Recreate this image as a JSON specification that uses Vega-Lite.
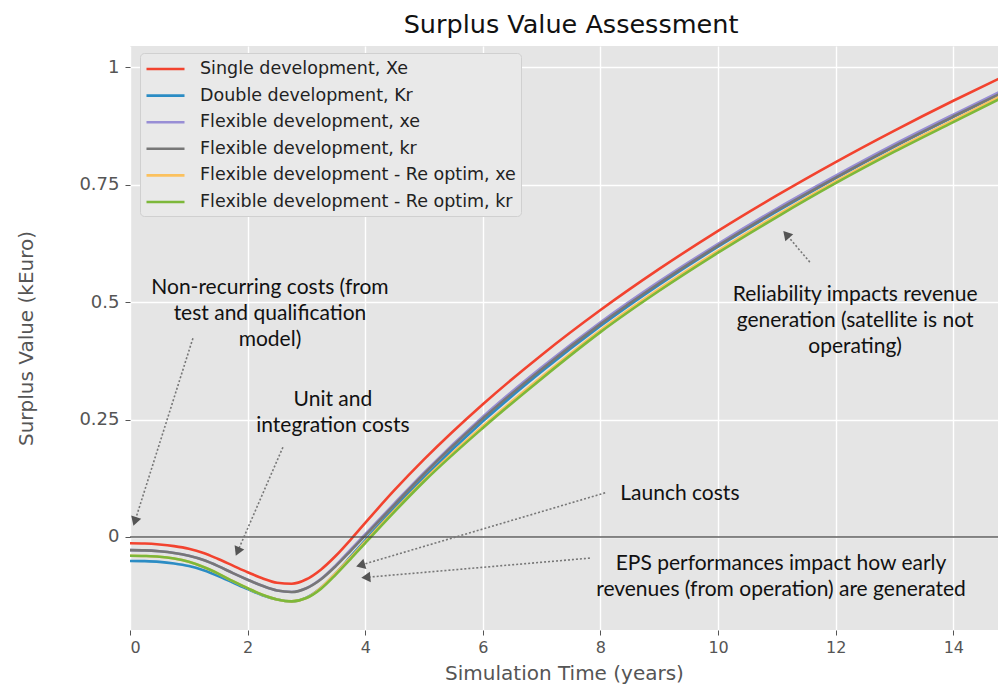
{
  "$schema": "https://vega.github.io/schema/vega-lite/v6.json",
  "width": 868,
  "height": 584,
  "autosize": {"type": "none"},
  "padding": {"left": 130, "top": 46, "right": 0, "bottom": 56},
  "background": "white",
  "title": {"text": "Surplus Value Assessment", "font": "DejaVu Sans", "fontSize": 25.5, "fontWeight": "normal", "color": "#111111", "anchor": "middle", "offset": 8, "dx": 7},
  "datasets": {
    "curves": [
      {"t": 0, "Single development, Xe": -0.0135, "Double development, Kr": -0.051, "Flexible development, xe": -0.028, "Flexible development, kr": -0.028, "Flexible development - Re optim, xe": -0.040, "Flexible development - Re optim, kr": -0.040},
      {"t": 0.25, "Single development, Xe": -0.014, "Double development, Kr": -0.0515, "Flexible development, xe": -0.0285, "Flexible development, kr": -0.0285, "Flexible development - Re optim, xe": -0.0405, "Flexible development - Re optim, kr": -0.0405},
      {"t": 0.5, "Single development, Xe": -0.016, "Double development, Kr": -0.053, "Flexible development, xe": -0.0305, "Flexible development, kr": -0.0305, "Flexible development - Re optim, xe": -0.042, "Flexible development - Re optim, kr": -0.042},
      {"t": 0.75, "Single development, Xe": -0.0195, "Double development, Kr": -0.0565, "Flexible development, xe": -0.034, "Flexible development, kr": -0.034, "Flexible development - Re optim, xe": -0.046, "Flexible development - Re optim, kr": -0.046},
      {"t": 1, "Single development, Xe": -0.025, "Double development, Kr": -0.062, "Flexible development, xe": -0.040, "Flexible development, kr": -0.040, "Flexible development - Re optim, xe": -0.053, "Flexible development - Re optim, kr": -0.053},
      {"t": 1.25, "Single development, Xe": -0.034, "Double development, Kr": -0.071, "Flexible development, xe": -0.049, "Flexible development, kr": -0.049, "Flexible development - Re optim, xe": -0.064, "Flexible development - Re optim, kr": -0.064},
      {"t": 1.5, "Single development, Xe": -0.047, "Double development, Kr": -0.083, "Flexible development, xe": -0.062, "Flexible development, kr": -0.062, "Flexible development - Re optim, xe": -0.078, "Flexible development - Re optim, kr": -0.078},
      {"t": 1.75, "Single development, Xe": -0.061, "Double development, Kr": -0.097, "Flexible development, xe": -0.077, "Flexible development, kr": -0.077, "Flexible development - Re optim, xe": -0.094, "Flexible development - Re optim, kr": -0.094},
      {"t": 2, "Single development, Xe": -0.075, "Double development, Kr": -0.111, "Flexible development, xe": -0.091, "Flexible development, kr": -0.091, "Flexible development - Re optim, xe": -0.109, "Flexible development - Re optim, kr": -0.109},
      {"t": 2.25, "Single development, Xe": -0.088, "Double development, Kr": -0.124, "Flexible development, xe": -0.104, "Flexible development, kr": -0.104, "Flexible development - Re optim, xe": -0.123, "Flexible development - Re optim, kr": -0.123},
      {"t": 2.5, "Single development, Xe": -0.0975, "Double development, Kr": -0.133, "Flexible development, xe": -0.114, "Flexible development, kr": -0.114, "Flexible development - Re optim, xe": -0.133, "Flexible development - Re optim, kr": -0.133},
      {"t": 2.75, "Single development, Xe": -0.0995, "Double development, Kr": -0.137, "Flexible development, xe": -0.117, "Flexible development, kr": -0.117, "Flexible development - Re optim, xe": -0.137, "Flexible development - Re optim, kr": -0.137},
      {"t": 3, "Single development, Xe": -0.090, "Double development, Kr": -0.129, "Flexible development, xe": -0.109, "Flexible development, kr": -0.109, "Flexible development - Re optim, xe": -0.130, "Flexible development - Re optim, kr": -0.130},
      {"t": 3.25, "Single development, Xe": -0.069, "Double development, Kr": -0.108, "Flexible development, xe": -0.089, "Flexible development, kr": -0.090, "Flexible development - Re optim, xe": -0.108, "Flexible development - Re optim, kr": -0.110},
      {"t": 3.5, "Single development, Xe": -0.040, "Double development, Kr": -0.077, "Flexible development, xe": -0.060, "Flexible development, kr": -0.062, "Flexible development - Re optim, xe": -0.077, "Flexible development - Re optim, kr": -0.080},
      {"t": 3.75, "Single development, Xe": -0.006, "Double development, Kr": -0.042, "Flexible development, xe": -0.027, "Flexible development, kr": -0.030, "Flexible development - Re optim, xe": -0.044, "Flexible development - Re optim, kr": -0.047},
      {"t": 4, "Single development, Xe": 0.030, "Double development, Kr": -0.007, "Flexible development, xe": 0.006, "Flexible development, kr": 0.003, "Flexible development - Re optim, xe": -0.010, "Flexible development - Re optim, kr": -0.013},
      {"t": 4.5, "Single development, Xe": 0.100, "Double development, Kr": 0.062, "Flexible development, xe": 0.072, "Flexible development, kr": 0.069, "Flexible development - Re optim, xe": 0.057, "Flexible development - Re optim, kr": 0.054},
      {"t": 5, "Single development, Xe": 0.165, "Double development, Kr": 0.127, "Flexible development, xe": 0.137, "Flexible development, kr": 0.134, "Flexible development - Re optim, xe": 0.121, "Flexible development - Re optim, kr": 0.118},
      {"t": 6, "Single development, Xe": 0.2825, "Double development, Kr": 0.246, "Flexible development, xe": 0.256, "Flexible development, kr": 0.252, "Flexible development - Re optim, xe": 0.236, "Flexible development - Re optim, kr": 0.232},
      {"t": 7, "Single development, Xe": 0.3875, "Double development, Kr": 0.352, "Flexible development, xe": 0.361, "Flexible development, kr": 0.357, "Flexible development - Re optim, xe": 0.341, "Flexible development - Re optim, kr": 0.337},
      {"t": 8, "Single development, Xe": 0.483, "Double development, Kr": 0.449, "Flexible development, xe": 0.457, "Flexible development, kr": 0.453, "Flexible development - Re optim, xe": 0.440, "Flexible development - Re optim, kr": 0.436},
      {"t": 9, "Single development, Xe": 0.5705, "Double development, Kr": 0.537, "Flexible development, xe": 0.544, "Flexible development, kr": 0.540, "Flexible development - Re optim, xe": 0.528, "Flexible development - Re optim, kr": 0.524},
      {"t": 10, "Single development, Xe": 0.6515, "Double development, Kr": 0.618, "Flexible development, xe": 0.624, "Flexible development, kr": 0.620, "Flexible development - Re optim, xe": 0.609, "Flexible development - Re optim, kr": 0.605},
      {"t": 11, "Single development, Xe": 0.727, "Double development, Kr": 0.693, "Flexible development, xe": 0.699, "Flexible development, kr": 0.695, "Flexible development - Re optim, xe": 0.685, "Flexible development - Re optim, kr": 0.681},
      {"t": 12, "Single development, Xe": 0.798, "Double development, Kr": 0.764, "Flexible development, xe": 0.769, "Flexible development, kr": 0.765, "Flexible development - Re optim, xe": 0.757, "Flexible development - Re optim, kr": 0.753},
      {"t": 13, "Single development, Xe": 0.865, "Double development, Kr": 0.831, "Flexible development, xe": 0.836, "Flexible development, kr": 0.832, "Flexible development - Re optim, xe": 0.824, "Flexible development - Re optim, kr": 0.820},
      {"t": 14, "Single development, Xe": 0.9285, "Double development, Kr": 0.894, "Flexible development, xe": 0.899, "Flexible development, kr": 0.895, "Flexible development - Re optim, xe": 0.887, "Flexible development - Re optim, kr": 0.883},
      {"t": 14.8, "Single development, Xe": 0.977, "Double development, Kr": 0.943, "Flexible development, xe": 0.948, "Flexible development, kr": 0.944, "Flexible development - Re optim, xe": 0.938, "Flexible development - Re optim, kr": 0.933}
    ],
    "zero": [{"v": 0}],
    "arrows": [
      {"id": 1, "x": 1.07, "y": 0.423, "x2": 0.082, "y2": 0.033},
      {"id": 2, "x": 2.60, "y": 0.191, "x2": 1.83, "y2": -0.031},
      {"id": 3, "x": 8.08, "y": 0.094, "x2": 3.92, "y2": -0.060},
      {"id": 4, "x": 7.82, "y": -0.045, "x2": 4.01, "y2": -0.086},
      {"id": 5, "x": 11.56, "y": 0.585, "x2": 11.16, "y2": 0.644}
    ],
    "notes": [
      {"x": 2.38, "y": 0.553, "label": ["Non-recurring costs (from", "test and qualification", "model)"]},
      {"x": 3.45, "y": 0.315, "label": ["Unit and", "integration costs"]},
      {"x": 9.35, "y": 0.115, "label": ["Launch costs"]},
      {"x": 11.07, "y": -0.034, "label": ["EPS performances impact how early", "revenues (from operation) are generated"]},
      {"x": 12.33, "y": 0.538, "label": ["Reliability impacts revenue", "generation (satellite is not", "operating)"]}
    ]
  },
  "layer": [
    {
      "data": {"name": "curves"},
      "transform": [
        {"fold": ["Single development, Xe", "Double development, Kr", "Flexible development, xe", "Flexible development, kr", "Flexible development - Re optim, xe", "Flexible development - Re optim, kr"], "as": ["series", "v"]}
      ],
      "mark": {"type": "line", "strokeWidth": 2.6, "interpolate": "monotone", "clip": true},
      "encoding": {
        "x": {"field": "t", "type": "quantitative", "scale": {"domain": [0, 14.76], "nice": false, "zero": false},
              "axis": {"title": "Simulation Time (years)", "values": [0, 2, 4, 6, 8, 10, 12, 14], "format": "d", "labelFontSize": 16, "labelPadding": 4, "titlePadding": 8}},
        "y": {"field": "v", "type": "quantitative", "scale": {"domain": [-0.198, 1.045], "nice": false, "zero": false},
              "axis": {"title": "Surplus Value (kEuro)", "values": [0, 0.25, 0.5, 0.75, 1], "format": ".2~f", "labelFontSize": 18, "labelPadding": 6, "titlePadding": 42}},
        "color": {"field": "series", "type": "nominal",
                  "scale": {"domain": ["Single development, Xe", "Double development, Kr", "Flexible development, xe", "Flexible development, kr", "Flexible development - Re optim, xe", "Flexible development - Re optim, kr"],
                            "range": ["#F2432F", "#2B8CC4", "#988ED5", "#777777", "#FBC15E", "#7DB83A"]},
                  "legend": {"title": null, "orient": "none", "legendX": 10, "legendY": 7}}
      }
    },
    {
      "data": {"name": "zero"},
      "mark": {"type": "rule", "color": "#444444", "strokeWidth": 1.4, "opacity": 0.85},
      "encoding": {"y": {"field": "v", "type": "quantitative",
                         "axis": {"title": "Surplus Value (kEuro)", "values": [0, 0.25, 0.5, 0.75, 1], "format": ".2~f", "labelFontSize": 18, "labelPadding": 6, "titlePadding": 42}}}
    },
    {
      "data": {"name": "arrows"},
      "mark": {"type": "rule", "color": "#777777", "strokeWidth": 1.6, "strokeDash": [2, 2]},
      "encoding": {
        "x": {"field": "x", "type": "quantitative",
              "axis": {"title": "Simulation Time (years)", "values": [0, 2, 4, 6, 8, 10, 12, 14], "format": "d", "labelFontSize": 16, "labelPadding": 4, "titlePadding": 8}},
        "y": {"field": "y", "type": "quantitative",
              "axis": {"title": "Surplus Value (kEuro)", "values": [0, 0.25, 0.5, 0.75, 1], "format": ".2~f", "labelFontSize": 18, "labelPadding": 6, "titlePadding": 42}},
        "x2": {"field": "x2"},
        "y2": {"field": "y2"}
      }
    },
    {"data": {"name": "arrows"}, "transform": [{"filter": "datum.id == 1"}],
     "mark": {"type": "point", "shape": "triangle-up", "filled": true, "color": "#555555", "size": 110, "angle": 197.6, "opacity": 1},
     "encoding": {"x": {"field": "x2", "type": "quantitative", "axis": {"title": "Simulation Time (years)", "values": [0, 2, 4, 6, 8, 10, 12, 14], "format": "d", "labelFontSize": 16, "labelPadding": 4, "titlePadding": 8}},
                  "y": {"field": "y2", "type": "quantitative", "axis": {"title": "Surplus Value (kEuro)", "values": [0, 0.25, 0.5, 0.75, 1], "format": ".2~f", "labelFontSize": 18, "labelPadding": 6, "titlePadding": 42}}}},
    {"data": {"name": "arrows"}, "transform": [{"filter": "datum.id == 2"}],
     "mark": {"type": "point", "shape": "triangle-up", "filled": true, "color": "#555555", "size": 110, "angle": 203.6, "opacity": 1},
     "encoding": {"x": {"field": "x2", "type": "quantitative", "axis": {"title": "Simulation Time (years)", "values": [0, 2, 4, 6, 8, 10, 12, 14], "format": "d", "labelFontSize": 16, "labelPadding": 4, "titlePadding": 8}},
                  "y": {"field": "y2", "type": "quantitative", "axis": {"title": "Surplus Value (kEuro)", "values": [0, 0.25, 0.5, 0.75, 1], "format": ".2~f", "labelFontSize": 18, "labelPadding": 6, "titlePadding": 42}}}},
    {"data": {"name": "arrows"}, "transform": [{"filter": "datum.id == 3"}],
     "mark": {"type": "point", "shape": "triangle-up", "filled": true, "color": "#555555", "size": 110, "angle": 253.5, "opacity": 1},
     "encoding": {"x": {"field": "x2", "type": "quantitative", "axis": {"title": "Simulation Time (years)", "values": [0, 2, 4, 6, 8, 10, 12, 14], "format": "d", "labelFontSize": 16, "labelPadding": 4, "titlePadding": 8}},
                  "y": {"field": "y2", "type": "quantitative", "axis": {"title": "Surplus Value (kEuro)", "values": [0, 0.25, 0.5, 0.75, 1], "format": ".2~f", "labelFontSize": 18, "labelPadding": 6, "titlePadding": 42}}}},
    {"data": {"name": "arrows"}, "transform": [{"filter": "datum.id == 4"}],
     "mark": {"type": "point", "shape": "triangle-up", "filled": true, "color": "#555555", "size": 110, "angle": 265, "opacity": 1},
     "encoding": {"x": {"field": "x2", "type": "quantitative", "axis": {"title": "Simulation Time (years)", "values": [0, 2, 4, 6, 8, 10, 12, 14], "format": "d", "labelFontSize": 16, "labelPadding": 4, "titlePadding": 8}},
                  "y": {"field": "y2", "type": "quantitative", "axis": {"title": "Surplus Value (kEuro)", "values": [0, 0.25, 0.5, 0.75, 1], "format": ".2~f", "labelFontSize": 18, "labelPadding": 6, "titlePadding": 42}}}},
    {"data": {"name": "arrows"}, "transform": [{"filter": "datum.id == 5"}],
     "mark": {"type": "point", "shape": "triangle-up", "filled": true, "color": "#555555", "size": 110, "angle": 318.8, "opacity": 1},
     "encoding": {"x": {"field": "x2", "type": "quantitative", "axis": {"title": "Simulation Time (years)", "values": [0, 2, 4, 6, 8, 10, 12, 14], "format": "d", "labelFontSize": 16, "labelPadding": 4, "titlePadding": 8}},
                  "y": {"field": "y2", "type": "quantitative", "axis": {"title": "Surplus Value (kEuro)", "values": [0, 0.25, 0.5, 0.75, 1], "format": ".2~f", "labelFontSize": 18, "labelPadding": 6, "titlePadding": 42}}}},
    {
      "data": {"name": "notes"},
      "mark": {"type": "text", "font": "Lato", "fontSize": 21, "lineHeight": 26, "align": "center", "baseline": "top", "color": "#111111"},
      "encoding": {
        "x": {"field": "x", "type": "quantitative", "axis": {"title": "Simulation Time (years)", "values": [0, 2, 4, 6, 8, 10, 12, 14], "format": "d", "labelFontSize": 16, "labelPadding": 4, "titlePadding": 8}},
        "y": {"field": "y", "type": "quantitative", "axis": {"title": "Surplus Value (kEuro)", "values": [0, 0.25, 0.5, 0.75, 1], "format": ".2~f", "labelFontSize": 18, "labelPadding": 6, "titlePadding": 42}},
        "text": {"field": "label"}
      }
    }
  ],
  "config": {
    "view": {"fill": "#E5E5E5", "stroke": null},
    "axis": {"domain": false, "grid": true, "gridColor": "#FFFFFF", "gridWidth": 1.4, "tickColor": "#555555", "tickSize": 5, "tickWidth": 1,
             "labelColor": "#555555", "labelFont": "DejaVu Sans", "titleFont": "DejaVu Sans", "titleFontSize": 20, "titleColor": "#555555", "titleFontWeight": "normal"},
    "legend": {"fillColor": "#E9E9E9", "strokeColor": "#D0D0D0", "cornerRadius": 4, "padding": 5, "symbolType": "M-1,0H3", "symbolSize": 361, "symbolStrokeWidth": 2.6,
               "labelFont": "DejaVu Sans", "labelFontSize": 17.5, "labelColor": "#222222", "labelLimit": 400, "rowPadding": 6.6, "labelOffset": 33}
  }
}
